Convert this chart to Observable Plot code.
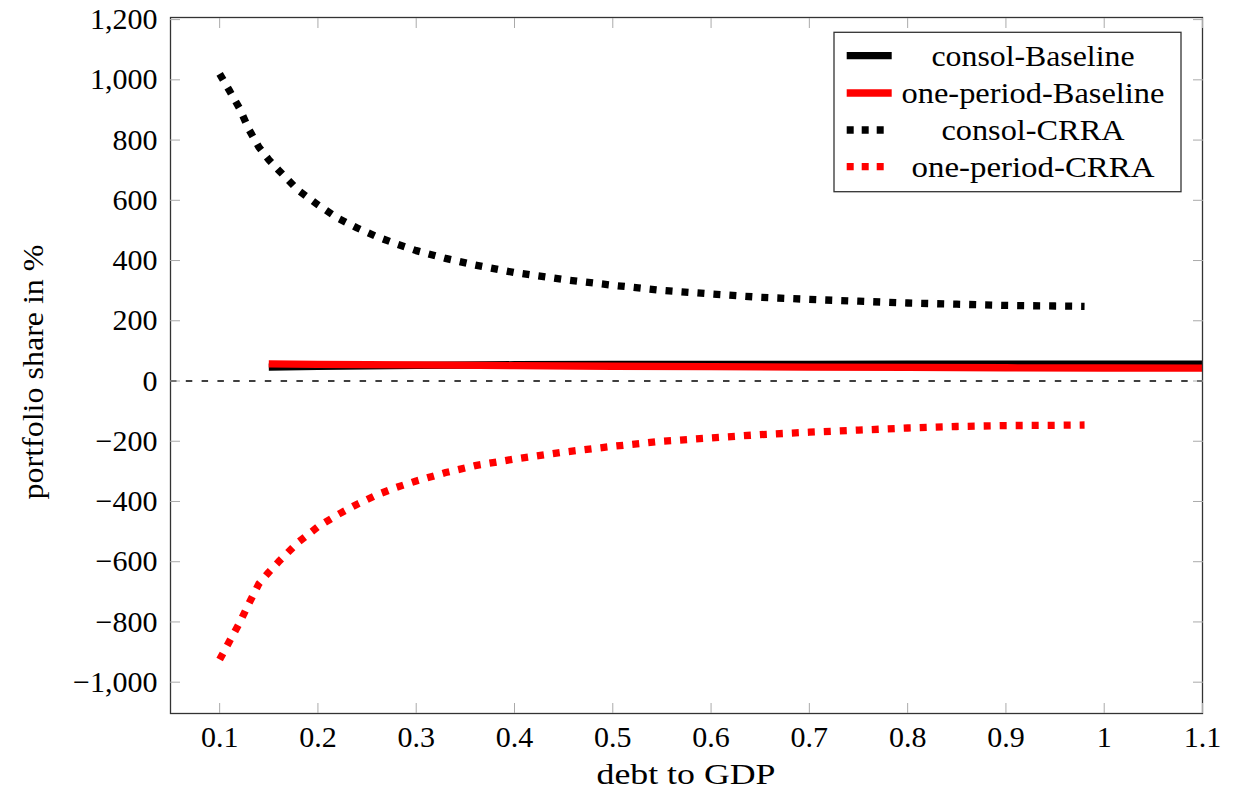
<!DOCTYPE html>
<html><head><meta charset="utf-8">
<script src="https://cdn.jsdelivr.net/npm/d3@7"></script>
<script src="https://cdn.jsdelivr.net/npm/@observablehq/plot@0.6"></script>
<style>
html,body{margin:0;padding:0;background:#fff;}
#chart{width:1235px;height:795px;}
</style></head><body><div id="chart"></div>
<script>
// ---- data ----
const seriesNames = ["consol-Baseline", "one-period-Baseline", "consol-CRRA", "one-period-CRRA"];
const seriesColors = ["#000000", "#ff0000", "#000000", "#ff0000"];
const seriesDotted = [false, false, true, true];

const baselineX = [0.15, 0.2, 0.3, 0.4, 0.5, 0.6, 0.7, 0.8, 0.9, 1.0, 1.1];
const consolBaselineY = [46, 49, 52, 54, 55, 55.3, 55.5, 55.7, 55.8, 55.9, 56];
const onePeriodBaselineY = [57, 55.5, 53.5, 51, 49, 47.5, 46.2, 45, 44, 43.2, 42.5];

const crraX = [0.10, 0.11, 0.12, 0.13, 0.14, 0.15, 0.16, 0.18, 0.20, 0.22, 0.24, 0.26, 0.28, 0.30, 0.33, 0.36, 0.40, 0.45, 0.50, 0.55, 0.60, 0.65, 0.70, 0.75, 0.80, 0.85, 0.90, 0.95, 0.98];
const consolCrraY = [1020, 964, 907, 834, 776, 735, 700, 633, 585, 541, 508, 479, 455, 433, 407, 385, 360, 337, 318, 301, 289, 278, 271, 265, 259, 255, 251, 249, 248];
const onePeriodCrraY = [-925, -864, -805, -737, -673, -635, -600, -535, -484, -444, -409, -378, -353, -332, -304, -281, -259, -236, -217, -200, -189, -178, -170, -163, -156, -151, -148, -147, -146];

const xTicks = [0.1, 0.2, 0.3, 0.4, 0.5, 0.6, 0.7, 0.8, 0.9, 1.0, 1.1];
const xTickLabels = ["0.1", "0.2", "0.3", "0.4", "0.5", "0.6", "0.7", "0.8", "0.9", "1", "1.1"];
const yTicks = [-1000, -800, -600, -400, -200, 0, 200, 400, 600, 800, 1000, 1200];
const yTickLabels = ["\u22121,000", "\u2212800", "\u2212600", "\u2212400", "\u2212200", "0", "200", "400", "600", "800", "1,000", "1,200"];
const xLabel = "debt to GDP";
const yLabel = "portfolio share in %";

// ---- build tables ----
const seriesX = [baselineX, baselineX, crraX, crraX];
const seriesY = [consolBaselineY, onePeriodBaselineY, consolCrraY, onePeriodCrraY];
const tables = seriesNames.map((name, s) => seriesX[s].map((x, i) => ({series: name, x, y: seriesY[s][i]})));

const font = "'Liberation Serif', 'Times New Roman', serif";
const FS = 30;
const W = 1235, H = 795, mL = 170, mR = 33, mT = 17, mB = 82;
const LW = 7.3;

const lineMarks = tables.map((t, s) => Plot.line(t, {
  x: "x", y: "y",
  stroke: seriesColors[s],
  strokeWidth: LW,
  strokeLinecap: "butt",
  strokeLinejoin: "round",
  strokeDasharray: seriesDotted[s] ? "7,9" : null
}));

const plot = Plot.plot({
  width: W, height: H,
  marginLeft: mL, marginRight: mR, marginTop: mT, marginBottom: mB,
  style: {fontFamily: font, fontSize: FS + "px", background: "#fff", color: "#000", overflow: "visible"},
  x: {domain: [0.05, 1.1]},
  y: {domain: [-1104, 1207]},
  marks: [
    Plot.ruleY([0], {stroke: "#000", strokeWidth: 1.4, strokeDasharray: "6.5,9.3"}),
    ...lineMarks,
    Plot.frame({stroke: "#333", strokeWidth: 1.3}),
    Plot.axisX(xTicks, {anchor: "bottom", tickSize: -10, tickPadding: 22, stroke: "#aaa", fill: "#000", tickFormat: (d, i) => xTickLabels[i], label: null}),
    Plot.axisX(xTicks, {anchor: "top", tickSize: -10, stroke: "#aaa", fill: "none", label: null}),
    Plot.axisY(yTicks, {anchor: "left", tickSize: -10, tickPadding: 23, stroke: "#aaa", fill: "#000", tickFormat: (d, i) => yTickLabels[i], label: null}),
    Plot.axisY(yTicks, {anchor: "right", tickSize: -10, stroke: "#aaa", fill: "none", label: null})
  ]
});
document.getElementById("chart").appendChild(plot);

// ---- axis titles and legend ----
const svg = d3.select(plot);
function label(sel, txt, len) {
  return sel.attr("text-anchor", "middle").attr("font-family", font).attr("font-size", FS)
    .attr("fill", "#000").attr("textLength", len).attr("lengthAdjust", "spacingAndGlyphs").text(txt);
}
label(svg.append("text").attr("x", (mL + W - mR) / 2).attr("y", 784), xLabel, 179);
label(svg.append("text").attr("transform", `translate(43,${(mT + H - mB) / 2 + 7}) rotate(-90)`), yLabel, 255);

const lg = svg.append("g");
lg.append("rect").attr("x", 834).attr("y", 32.3).attr("width", 347).attr("height", 159.4)
  .attr("fill", "#fff").attr("stroke", "#333").attr("stroke-width", 1.3);
const rowY = [55.7, 93, 130, 166.7];
const legendLen = [203, 263, 183, 243];
seriesNames.forEach((name, s) => {
  lg.append("line").attr("x1", 846.7).attr("x2", 891.7).attr("y1", rowY[s]).attr("y2", rowY[s])
    .attr("stroke", seriesColors[s]).attr("stroke-width", LW)
    .attr("stroke-dasharray", seriesDotted[s] ? "7,8" : null);
  label(lg.append("text").attr("x", 1033).attr("y", rowY[s] + 9.8), name, legendLen[s]);
});
</script>
</body></html>
